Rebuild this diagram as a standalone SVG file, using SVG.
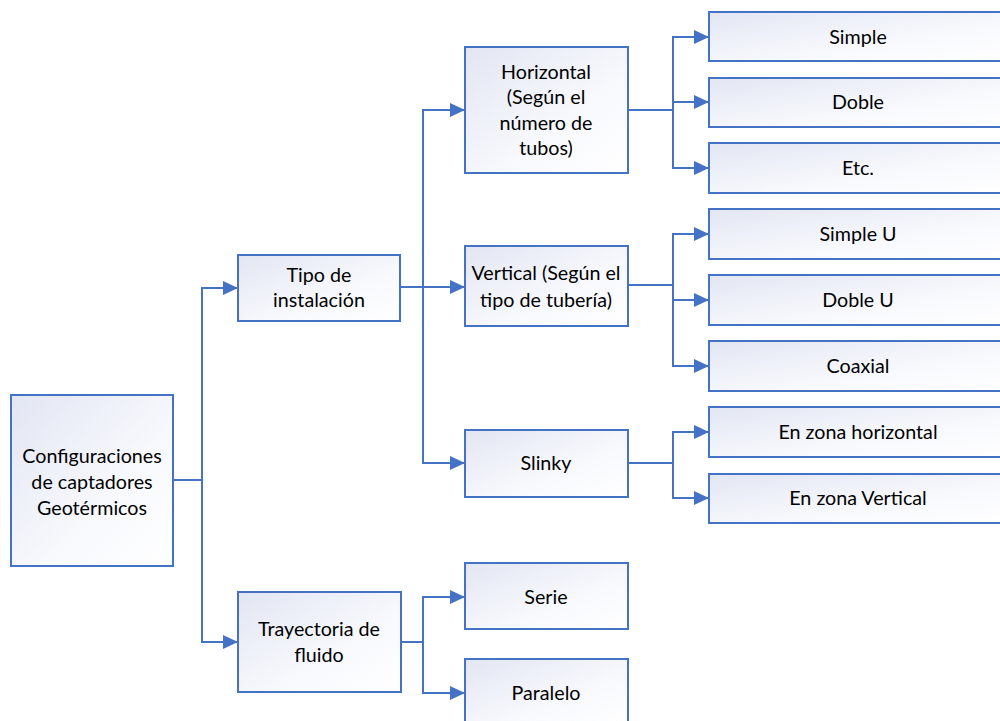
<svg xmlns="http://www.w3.org/2000/svg" width="1000" height="721" viewBox="0 0 1000 721">
<defs>
<linearGradient id="g" x1="0" y1="0" x2="1" y2="1">
<stop offset="0" stop-color="#e2e6f3"/>
<stop offset="0.6" stop-color="#f8f9fd"/>
<stop offset="1" stop-color="#ffffff"/>
</linearGradient>
<marker id="a" markerUnits="userSpaceOnUse" markerWidth="15" markerHeight="14" viewBox="0 0 15 14" refX="15" refY="7" orient="auto">
<path d="M0,0 L15,7 L0,14 z" fill="#4472c4"/>
</marker>
<style>
.b{fill:url(#g);stroke:#4472c4;stroke-width:2}
.t{font-family:Lato,"Liberation Sans",sans-serif;font-size:19.7px;fill:#000;text-anchor:middle}
.c{fill:none;stroke:#4472c4;stroke-width:2}
</style>
</defs>
<rect width="1000" height="721" fill="#fff"/>
<g id="connectors">
<path class="c" d="M173,480 H202 V288 H238" marker-end="url(#a)"/>
<path class="c" d="M173,480 H202 V642 H238" marker-end="url(#a)"/>
<path class="c" d="M400,287 H423 V110 H465" marker-end="url(#a)"/>
<path class="c" d="M400,287 H465" marker-end="url(#a)"/>
<path class="c" d="M400,287 H423 V463 H465" marker-end="url(#a)"/>
<path class="c" d="M401,642 H423 V597 H465" marker-end="url(#a)"/>
<path class="c" d="M401,642 H423 V693 H465" marker-end="url(#a)"/>
<path class="c" d="M628,110 H673 V37 H709" marker-end="url(#a)"/>
<path class="c" d="M628,110 H673 V102 H709" marker-end="url(#a)"/>
<path class="c" d="M628,110 H673 V168 H709" marker-end="url(#a)"/>
<path class="c" d="M628,285 H673 V234 H709" marker-end="url(#a)"/>
<path class="c" d="M628,285 H673 V300 H709" marker-end="url(#a)"/>
<path class="c" d="M628,285 H673 V366 H709" marker-end="url(#a)"/>
<path class="c" d="M628,463 H673 V432 H709" marker-end="url(#a)"/>
<path class="c" d="M628,463 H673 V498 H709" marker-end="url(#a)"/>
</g>
<g id="root"><rect class="b" x="11" y="395" width="162" height="171"/>
<text class="t" x="92" y="463">Configuraciones</text><text class="t" x="92" y="489">de captadores</text><text class="t" x="92" y="515">Geotérmicos</text></g>
<g id="tipo"><rect class="b" x="238" y="255" width="162" height="66"/>
<text class="t" x="319" y="282">Tipo de</text><text class="t" x="319" y="307">instalación</text></g>
<g id="trayectoria"><rect class="b" x="238" y="592" width="163" height="100"/>
<text class="t" x="319" y="636">Trayectoria de</text><text class="t" x="319" y="662">fluido</text></g>
<g id="horizontal"><rect class="b" x="465" y="47" width="163" height="126"/>
<text class="t" x="546" y="79">Horizontal</text><text class="t" x="546" y="104">(Según el</text><text class="t" x="546" y="130">número de</text><text class="t" x="546" y="155">tubos)</text></g>
<g id="vertical"><rect class="b" x="465" y="246" width="163" height="80"/>
<text class="t" x="546" y="280">Vertical (Según el</text><text class="t" x="546" y="307">tipo de tubería)</text></g>
<g id="slinky"><rect class="b" x="465" y="430" width="163" height="67"/>
<text class="t" x="546" y="470">Slinky</text></g>
<g id="serie"><rect class="b" x="465" y="563" width="163" height="66"/>
<text class="t" x="546" y="604">Serie</text></g>
<g id="paralelo"><rect class="b" x="465" y="659" width="163" height="66"/>
<text class="t" x="546" y="700">Paralelo</text></g>
<g id="simple"><rect class="b" x="709" y="12" width="298" height="49"/>
<text class="t" x="858" y="44">Simple</text></g>
<g id="doble"><rect class="b" x="709" y="78" width="298" height="49"/>
<text class="t" x="858" y="109">Doble</text></g>
<g id="etc"><rect class="b" x="709" y="143" width="298" height="50"/>
<text class="t" x="858" y="175">Etc.</text></g>
<g id="simpleu"><rect class="b" x="709" y="209" width="298" height="50"/>
<text class="t" x="858" y="241">Simple U</text></g>
<g id="dobleu"><rect class="b" x="709" y="275" width="298" height="50"/>
<text class="t" x="858" y="307">Doble U</text></g>
<g id="coaxial"><rect class="b" x="709" y="341" width="298" height="50"/>
<text class="t" x="858" y="373">Coaxial</text></g>
<g id="zonah"><rect class="b" x="709" y="407" width="298" height="50"/>
<text class="t" x="858" y="439">En zona horizontal</text></g>
<g id="zonav"><rect class="b" x="709" y="474" width="298" height="49"/>
<text class="t" x="858" y="505">En zona Vertical</text></g>
</svg>
